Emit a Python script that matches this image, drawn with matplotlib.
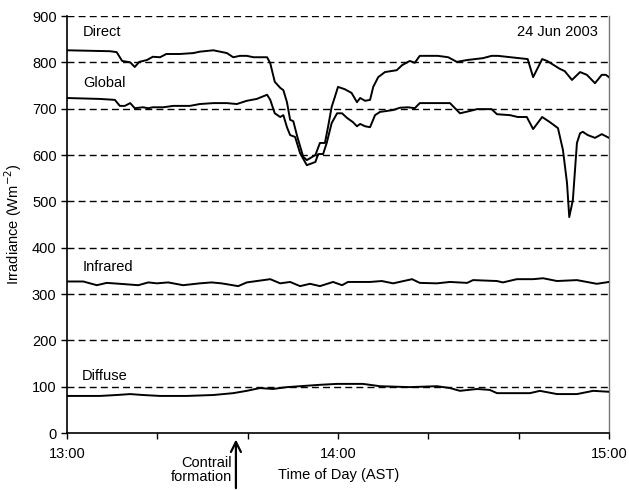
import matplotlib
matplotlib.use("Agg")
import matplotlib.pyplot as plt

plt.rcParams['font.family'] = ['Liberation Sans', 'DejaVu Sans']

# time in minutes after 13:00
direct_t = [0, 9.5, 11, 12.2, 14, 15, 16, 17.7, 19, 20.6, 22, 25, 28, 29.4, 32.4, 35.4, 36.8,
            38.3, 39.8, 41.3, 44.3, 45, 46, 47.2, 47.9, 48.7, 49.4, 50.1, 51, 52.3, 53.1, 55,
            56, 57.1, 57.8, 58.6, 59.3, 60, 61.5, 63, 64.2, 64.9, 66, 67.1, 67.8, 68.9, 70.4,
            73, 74.2, 75.9, 77, 78.1, 82.1, 84.4, 86.3, 88.6, 92.1, 94, 95.4, 102, 103.2,
            105.2, 106.3, 109.1, 110.2, 111.8, 113.6, 115.1, 116.9, 118.4, 119.3, 120]
direct_v = [826, 824, 822, 803, 800, 790, 801, 805, 812, 811, 818, 818, 820, 823, 826, 820, 811,
            814, 814, 811, 811, 798, 758, 745, 740, 714, 676, 673, 639, 596, 589, 600,
            626, 626, 661, 704, 725, 747, 742, 734, 714, 723, 717, 719, 747, 768, 779,
            783, 794, 803, 799, 814, 814, 811, 801, 805, 809, 814, 814, 807, 768,
            807, 803, 786, 781, 762, 779, 773, 755, 773, 773, 768]

global_t = [0, 7.3, 10.6, 11.7, 12.8, 14, 15, 16.8, 18, 19, 21.3, 23.5, 27.2, 29.4, 32.4, 35.4,
            37.6, 39.8, 42, 44.3, 45, 46, 47.2, 47.9, 48.7, 49.4, 50.5, 51.6, 53.1, 55, 55.6,
            56.7, 57.5, 58.6, 59.8, 60.9, 62, 63.3, 64.2, 64.9, 66, 67.1, 68.2, 69.3, 72.2,
            73.7, 75.5, 77, 78.1, 81.5, 84.8, 87, 89.2, 90.8, 94, 95.2, 98.1, 99.8, 101.8,
            103.2, 105.2, 106.9, 108.7, 109.8, 110.7, 111.2, 112, 112.9, 113.6, 114.2, 115.3,
            116.9, 118.4, 120]
global_v = [723, 721, 719, 706, 706, 712, 701, 703, 701, 703, 703, 706, 706, 710, 712, 712,
            710, 717, 721, 730, 719, 690, 682, 686, 660, 643, 639, 604, 578, 585, 602,
            602, 626, 669, 690, 690, 680, 671, 662, 667, 662, 660, 686, 693, 697,
            702, 703, 701, 712, 712, 712, 690, 695, 699, 699, 688, 686, 682, 682,
            656, 682, 671, 658, 611, 540, 466, 503, 626, 647, 650, 643,
            637, 645, 637]

ir_t = [0, 3.6, 6.6, 8.8, 11.7, 15.8, 18, 19.9, 22.4, 25.7, 29.4, 32, 34.2, 37.9, 39.8, 45,
        47.2, 49.4, 51.6, 53.8, 56, 58.9, 60.9, 62.2, 67.1, 69.7, 72.2, 76.4, 78.1, 81.9,
        84.8, 88.6, 89.9, 95.2, 96.5, 99.6, 103.2, 105.4, 108.5, 112.9, 115.1, 117.3, 120]
ir_v = [327, 327, 319, 324, 322, 319, 325, 323, 325, 319, 323, 325, 323, 317, 325, 332,
        323, 326, 317, 322, 317, 326, 319, 326, 326, 328, 323, 332, 324, 323,
        326, 324, 330, 328, 325, 332, 332, 334, 328, 330, 326, 322, 326]

diffuse_t = [0, 7.3, 11, 14, 16.8, 20.6, 26.5, 32.4, 36.8, 39.8, 42.7, 45.6, 48.7, 51.6, 56,
             59.8, 65.5, 69.3, 75.9, 81.9, 84.8, 87, 90.8, 93.6, 95.2, 102.5, 104.7, 108.5,
             112.9, 116.5, 120]
diffuse_v = [80, 80, 82, 84, 82, 80, 80, 82, 86, 91, 97, 95, 99, 101, 104,
             106, 106, 101, 99, 101, 97, 91, 95, 93, 86, 86, 91, 84,
             84, 91, 89]

yticks = [0, 100, 200, 300, 400, 500, 600, 700, 800, 900]
xticks = [0, 20, 40, 60, 80, 100, 120]
xticklabels = ['13:00', '', '', '14:00', '', '', '15:00']
contrail_t = 37.4

fig = plt.figure(figsize=(6.29, 4.90), dpi=100)
ax = fig.add_axes([67/629, 1 - 433/490, 542/629, 417/490])

for y in yticks[1:]:
    ax.axhline(y, color='black', lw=1.0, linestyle=(0, (5, 3)), zorder=1)

for t, v in [(direct_t, direct_v), (global_t, global_v), (ir_t, ir_v), (diffuse_t, diffuse_v)]:
    ax.plot(t, v, color='black', lw=1.4, zorder=3)

ax.set_xlim(0, 120)
ax.set_ylim(0, 900)
ax.set_yticks(yticks)
ax.set_xticks(xticks)
ax.set_xticklabels(xticklabels)
ax.tick_params(axis='both', direction='out', length=4, width=1, labelsize=10.5, colors='black')
ax.tick_params(axis='x', pad=6)
ax.spines['top'].set_visible(False)
ax.spines['right'].set_color('#777777')
ax.spines['right'].set_linewidth(1.0)
ax.spines['left'].set_linewidth(1.2)
ax.spines['bottom'].set_linewidth(1.2)

ax.set_ylabel('Irradiance (Wm$^{-2}$)', fontsize=10.5, labelpad=6)
fig.text(339/629, 1 - 475/490, 'Time of Day (AST)', ha='center', va='center', fontsize=10.5)

ax.text(3.5, 865, 'Direct', fontsize=10.5, va='center')
ax.text(3.5, 755, 'Global', fontsize=10.5, va='center')
ax.text(3.5, 358, 'Infrared', fontsize=10.5, va='center')
ax.text(3.3, 123, 'Diffuse', fontsize=10.5, va='center')
ax.text(117.5, 865, '24 Jun 2003', fontsize=10.5, va='center', ha='right')

ax.annotate('', xy=(contrail_t, -8), xytext=(contrail_t, -125),
            xycoords='data', textcoords='data', annotation_clip=False,
            arrowprops=dict(arrowstyle='->', lw=1.6, color='black', mutation_scale=18))
fig.text(232/629, 1 - 470/490, 'Contrail\nformation', ha='right', va='center',
         fontsize=10.5, linespacing=0.95)

fig.savefig('out.png', dpi=100)
